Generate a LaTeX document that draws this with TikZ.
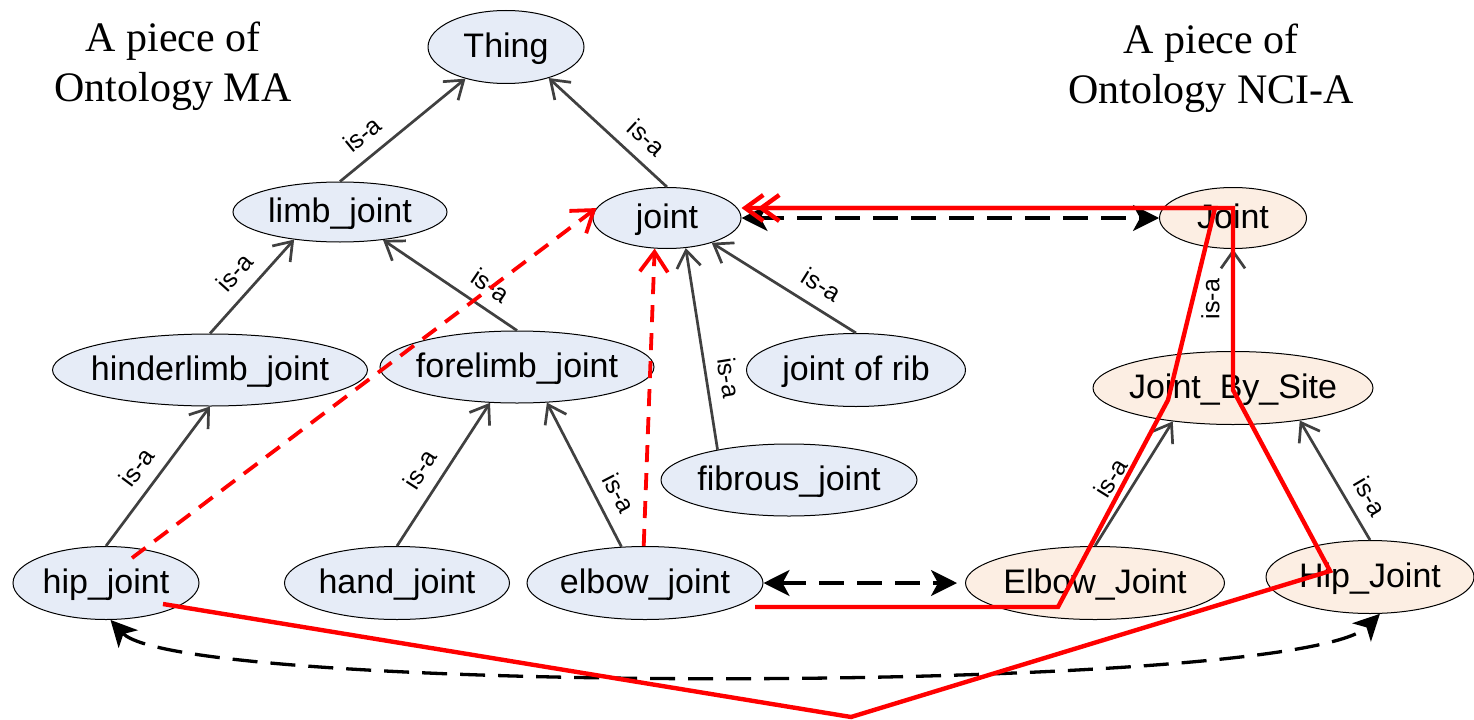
\documentclass[tikz,border=0pt]{standalone}
\usepackage{fontspec}
\setmainfont{Liberation Serif}
\newfontfamily\nodefont{Liberation Sans}
\usetikzlibrary{arrows.meta,calc,shapes.geometric}
\definecolor{mablue}{RGB}{230,236,247}
\definecolor{ncipeach}{RGB}{252,238,227}
\definecolor{edgegray}{RGB}{64,64,64}
\newcommand{\ztext}[1]{\makebox[0pt]{#1}}
\begin{document}
\begin{tikzpicture}[x=1bp,y=-1bp,
  ont/.style={ellipse, draw=black, line width=1bp, inner sep=0pt,
    font=\nodefont\fontsize{34bp}{40bp}\selectfont, text height=28.9bp, text depth=8.3bp},
  ma/.style={ont, fill=mablue},
  nci/.style={ont, fill=ncipeach},
  title/.style={font=\fontsize{42bp}{50bp}\selectfont, anchor=base, inner sep=0pt},
  isa/.style={draw=edgegray, line width=2.7bp, -{Straight Barb[length=17bp,width=24bp]}},
  lab/.style={font=\nodefont\fontsize{25bp}{30bp}\selectfont, sloped, above=12bp, inner sep=0pt},
  reddash/.style={draw=red, line width=3.8bp, dash pattern=on 17bp off 11bp, -{Straight Barb[length=20bp,width=28bp]}},
  redline/.style={draw=red, line width=4.4bp, -{Straight Barb[length=18bp,width=26bp]}},
  bdash/.style={draw=black, line width=3.3bp, dash pattern=on 25bp off 13bp,
    {Stealth[length=26bp,width=26bp,inset=7bp]}-{Stealth[length=26bp,width=26bp,inset=7bp]}}
]
\useasboundingbox (0,0) rectangle (1474,720);
\fill[white] (0,0) rectangle (1474,720);

% titles
\node[title] (maT1) at (173,52) {A piece of};
\node[title] (maT2) at (173,102) {Ontology MA};
\node[title] (nciT1) at (1211,54) {A piece of};
\node[title] (nciT2) at (1211,104) {Ontology NCI-A};

% MA nodes
\node[ma, minimum width=156bp, minimum height=73bp] (thing) at (506,47) {\ztext{Thing}};
\node[ma, minimum width=214bp, minimum height=60bp] (limb) at (340,212) {\ztext{limb\_joint}};
\node[ma, minimum width=148bp, minimum height=61bp] (joint) at (667,218) {\ztext{joint}};
\node[ma, minimum width=315bp, minimum height=72bp] (hinder) at (210,370) {\ztext{hinderlimb\_joint}};
\node[ma, minimum width=274bp, minimum height=72bp] (fore) at (517,367) {\ztext{forelimb\_joint}};
\node[ma, minimum width=219bp, minimum height=73bp] (rib) at (856,370) {\ztext{joint of rib}};
\node[ma, minimum width=256bp, minimum height=72bp] (fibrous) at (789,480) {\ztext{fibrous\_joint}};
\node[ma, minimum width=186bp, minimum height=73bp] (hip) at (106,583) {\ztext{hip\_joint}};
\node[ma, minimum width=225bp, minimum height=73bp] (hand) at (397,583) {\ztext{hand\_joint}};
\node[ma, minimum width=236bp, minimum height=73bp] (elbow) at (645,583) {\ztext{elbow\_joint}};

% NCI-A nodes
\node[nci, minimum width=147bp, minimum height=61bp] (NJ) at (1233,218) {\ztext{Joint}};
\node[nci, minimum width=280bp, minimum height=73bp] (JBS) at (1233,388) {\ztext{Joint\_By\_Site}};
\node[nci, minimum width=259bp, minimum height=73bp] (EJ) at (1095,583) {\ztext{Elbow\_Joint}};
\node[nci, minimum width=208bp, minimum height=73bp] (HJ) at (1370,577) {\ztext{Hip\_Joint}};

% is-a edges
\draw[isa] (limb.north) -- node[lab,pos=0.29]{is-a} (thing.218);
\draw[isa] (joint.north) -- node[lab,pos=0.30]{is-a} (thing.324);
\draw[isa] (hinder.north) -- node[lab,pos=0.49]{is-a} (limb.211);
\draw[isa] (fore.north) -- node[lab,pos=0.29]{is-a} (limb.327);
\draw[isa] (hip.north) -- node[lab,pos=0.47]{is-a} (hinder.south);
\draw[isa] (hand.north) -- node[lab,pos=0.45]{is-a} (fore.233);
\draw[isa] (elbow.123) -- node[lab,pos=0.30]{is-a} (fore.310);
\draw[isa] (fibrous.157) -- node[lab,pos=0.34]{is-a} (joint.302);
\draw[isa] (rib.north) -- node[lab,pos=0.32]{is-a} (joint.331);
\draw[isa] (JBS.north) -- node[lab,pos=0.51]{is-a} (NJ.south);
\draw[isa] (EJ.north) -- node[lab,pos=0.45]{is-a} (JBS.209);
\draw[isa] (HJ.north) -- node[lab,pos=0.27]{is-a} (JBS.334);

% black dashed mappings
\draw[bdash] (joint.east) -- (NJ.west);
\draw[bdash, shorten >=8bp] (elbow.east) -- (EJ.west);
\draw[bdash] (hip.-83) .. controls (180,695) and (1300,695) .. (HJ.-75);

% red dashed
\coordinate (rd0) at (132,558);
\draw[reddash] (rd0) -- (joint.172);
\draw[reddash] (elbow.92) -- (joint.248);

% red solid paths
\coordinate (a0) at (755,607);
\coordinate (a1) at (1058,607);
\coordinate (a2) at (1168,400);
\coordinate (a3) at (1215,208);
\draw[redline] (a0) -- (a1) -- (a2) -- (a3) -- (joint.east |- a3);
\coordinate (b0) at (163,604);
\coordinate (b1) at (851,717);
\coordinate (b2) at (1330,571);
\coordinate (b3) at (1233,390);
\coordinate (b4) at (1233,208);
\draw[redline, shorten >=16bp] (b0) -- (b1) -- (b2) -- (b3) -- (b4) -- (joint.east |- b4);
\end{tikzpicture}
\end{document}
